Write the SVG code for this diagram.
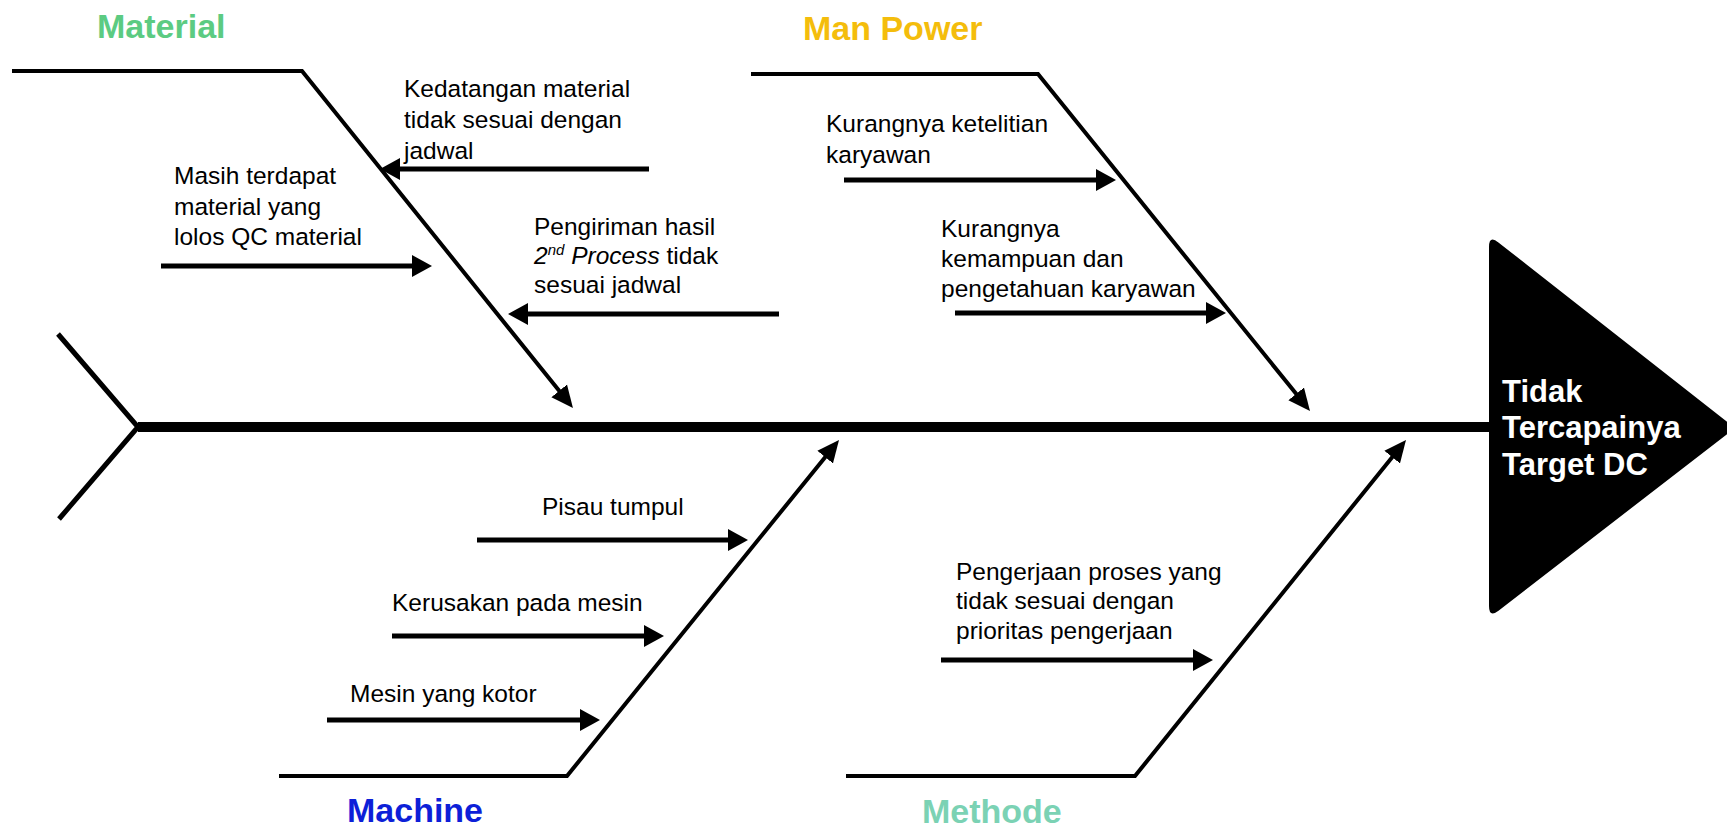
<svg xmlns="http://www.w3.org/2000/svg" width="1727" height="830" viewBox="0 0 1727 830">
<style>
  .bg { fill: #ffffff; }
  .txt { font-family: "Liberation Sans", Arial, sans-serif; font-size: 24.5px; fill: #000000; }
  .cat { font-family: "Liberation Sans", Arial, sans-serif; font-size: 34px; font-weight: bold; }
  .head { font-family: "Liberation Sans", Arial, sans-serif; font-size: 31px; font-weight: bold; fill: #ffffff; }
  .bone { fill: none; stroke: #000000; stroke-width: 4; stroke-linejoin: miter; }
  .sub { fill: none; stroke: #000000; stroke-width: 5; }
  .spine { fill: none; stroke: #000000; stroke-width: 10; }
  .tail { fill: none; stroke: #000000; stroke-width: 5; stroke-linejoin: miter; }
</style>
<defs>
  <marker id="ah" markerUnits="userSpaceOnUse" markerWidth="20" markerHeight="24" refX="8" refY="12" orient="auto">
    <path d="M0,1 L20,12 L0,23 Z" fill="#000000"/>
  </marker>
  <marker id="ahd" markerUnits="userSpaceOnUse" markerWidth="22" markerHeight="22" refX="8" refY="11" orient="auto">
    <path d="M0,1 L22,11 L0,21 Z" fill="#000000"/>
  </marker>
</defs>
<rect class="bg" x="0" y="0" width="1727" height="830"/>

<g id="connectors">
  <!-- tail and spine -->
  <polyline class="tail" points="58,334 138,427 59,519"/>
  <line class="spine" x1="138" y1="427" x2="1492" y2="427"/>
  <!-- main bones -->
  <path class="bone" d="M12,71 L302,71 L564.2,397.1" marker-end="url(#ahd)"/>
  <path class="bone" d="M751,74 L1038,74 L1301.2,400.1" marker-end="url(#ahd)"/>
  <path class="bone" d="M279,776 L567,776 L830.2,450.9" marker-end="url(#ahd)"/>
  <path class="bone" d="M846,776 L1135,776 L1397.2,450.9" marker-end="url(#ahd)"/>
  <!-- sub-cause arrows -->
  <line class="sub" x1="649" y1="169" x2="392" y2="169" marker-end="url(#ah)"/>
  <line class="sub" x1="161" y1="266" x2="420" y2="266" marker-end="url(#ah)"/>
  <line class="sub" x1="779" y1="314" x2="520" y2="314" marker-end="url(#ah)"/>
  <line class="sub" x1="844" y1="180" x2="1104" y2="180" marker-end="url(#ah)"/>
  <line class="sub" x1="955" y1="313" x2="1214" y2="313" marker-end="url(#ah)"/>
  <line class="sub" x1="477" y1="540" x2="736" y2="540" marker-end="url(#ah)"/>
  <line class="sub" x1="392" y1="636" x2="652" y2="636" marker-end="url(#ah)"/>
  <line class="sub" x1="327" y1="720" x2="588" y2="720" marker-end="url(#ah)"/>
  <line class="sub" x1="941" y1="660" x2="1201" y2="660" marker-end="url(#ah)"/>
</g>

<g id="head">
  <path d="M1489,247 Q1489,235 1498.4,242.4 L1735,428 L1498.5,610.7 Q1489,618 1489,606 Z" fill="#000000"/>
  <text class="head" x="1502" y="402">Tidak</text>
  <text class="head" x="1502" y="438">Tercapainya</text>
  <text class="head" x="1502" y="475">Target DC</text>
</g>

<g id="cat-material">
  <text class="cat" x="97" y="38" fill="#5ccb82">Material</text>
</g>
<g id="cat-manpower">
  <text class="cat" x="803" y="40" fill="#f4bd0c">Man Power</text>
</g>
<g id="cat-machine">
  <text class="cat" x="347" y="822" fill="#0d1fd8">Machine</text>
</g>
<g id="cat-methode">
  <text class="cat" x="922" y="823" fill="#7bd2b4">Methode</text>
</g>

<g id="cause-kedatangan">
  <text class="txt" x="404" y="97">Kedatangan material</text>
  <text class="txt" x="404" y="128">tidak sesuai dengan</text>
  <text class="txt" x="404" y="159">jadwal</text>
</g>
<g id="cause-masih">
  <text class="txt" x="174" y="184">Masih terdapat</text>
  <text class="txt" x="174" y="215">material yang</text>
  <text class="txt" x="174" y="245">lolos QC material</text>
</g>
<g id="cause-pengiriman">
  <text class="txt" x="534" y="235">Pengiriman hasil</text>
  <text class="txt" x="534" y="264"><tspan font-style="italic">2</tspan><tspan font-style="italic" font-size="15" dy="-9">nd</tspan><tspan font-style="italic" dy="9"> Process</tspan> tidak</text>
  <text class="txt" x="534" y="293">sesuai jadwal</text>
</g>
<g id="cause-ketelitian">
  <text class="txt" x="826" y="132">Kurangnya ketelitian</text>
  <text class="txt" x="826" y="163">karyawan</text>
</g>
<g id="cause-kemampuan">
  <text class="txt" x="941" y="237">Kurangnya</text>
  <text class="txt" x="941" y="267">kemampuan dan</text>
  <text class="txt" x="941" y="297">pengetahuan karyawan</text>
</g>
<g id="cause-pisau">
  <text class="txt" x="542" y="515">Pisau tumpul</text>
</g>
<g id="cause-kerusakan">
  <text class="txt" x="392" y="611">Kerusakan pada mesin</text>
</g>
<g id="cause-kotor">
  <text class="txt" x="350" y="702">Mesin yang kotor</text>
</g>
<g id="cause-pengerjaan">
  <text class="txt" x="956" y="580">Pengerjaan proses yang</text>
  <text class="txt" x="956" y="609">tidak sesuai dengan</text>
  <text class="txt" x="956" y="639">prioritas pengerjaan</text>
</g>
</svg>
